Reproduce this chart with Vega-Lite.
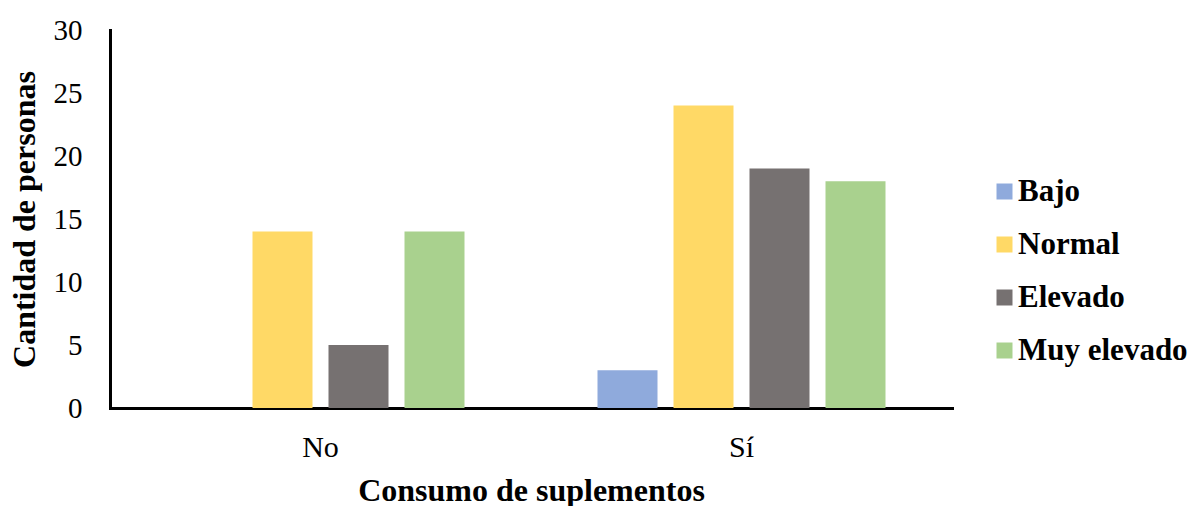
{
  "$schema": "https://vega.github.io/schema/vega-lite/v6.json",
  "autosize": {"type": "none"},
  "padding": {"left": 110, "top": 30, "right": 245, "bottom": 98},
  "width": 842,
  "height": 378,
  "background": "white",
  "data": {
    "values": [
      {"consumo": "No", "nivel": "Bajo", "personas": 0},
      {"consumo": "No", "nivel": "Normal", "personas": 14},
      {"consumo": "No", "nivel": "Elevado", "personas": 5},
      {"consumo": "No", "nivel": "Muy elevado", "personas": 14},
      {"consumo": "Sí", "nivel": "Bajo", "personas": 3},
      {"consumo": "Sí", "nivel": "Normal", "personas": 24},
      {"consumo": "Sí", "nivel": "Elevado", "personas": 19},
      {"consumo": "Sí", "nivel": "Muy elevado", "personas": 18}
    ]
  },
  "mark": {"type": "bar"},
  "encoding": {
    "x": {
      "field": "consumo",
      "type": "nominal",
      "sort": ["No", "Sí"],
      "scale": {"paddingInner": 0, "paddingOuter": 0},
      "axis": {
        "title": "Consumo de suplementos",
        "labelAngle": 0,
        "ticks": false,
        "labelPadding": 24,
        "labelFontSize": 30,
        "labelFont": "Liberation Serif",
        "labelColor": "black",
        "domainColor": "black",
        "domainWidth": 3,
        "titleFont": "Liberation Serif",
        "titleFontSize": 32,
        "titleFontWeight": "bold",
        "titleColor": "black",
        "titleY": 92,
        "titleBaseline": "alphabetic"
      }
    },
    "xOffset": {
      "field": "nivel",
      "type": "nominal",
      "sort": ["Bajo", "Normal", "Elevado", "Muy elevado"],
      "scale": {"paddingInner": 0.2105, "paddingOuter": 0.875}
    },
    "y": {
      "field": "personas",
      "type": "quantitative",
      "scale": {"domain": [0, 30]},
      "axis": {
        "title": "Cantidad de personas",
        "values": [0, 5, 10, 15, 20, 25, 30],
        "grid": false,
        "ticks": false,
        "labelPadding": 28,
        "labelFontSize": 29,
        "labelFont": "Liberation Serif",
        "labelColor": "black",
        "domainColor": "black",
        "domainWidth": 3,
        "titleFont": "Liberation Serif",
        "titleFontSize": 32,
        "titleFontWeight": "bold",
        "titleColor": "black",
        "titleX": -76,
        "titleY": 189,
        "titleAlign": "center",
        "titleBaseline": "alphabetic"
      }
    },
    "color": {
      "field": "nivel",
      "type": "nominal",
      "sort": ["Bajo", "Normal", "Elevado", "Muy elevado"],
      "scale": {
        "domain": ["Bajo", "Normal", "Elevado", "Muy elevado"],
        "range": ["#8faadc", "#ffd966", "#767171", "#a9d18e"]
      },
      "legend": {
        "title": null,
        "orient": "none",
        "legendX": 879,
        "legendY": 146,
        "padding": 0,
        "symbolType": "square",
        "symbolSize": 256,
        "symbolStrokeWidth": 0,
        "labelFont": "Liberation Serif",
        "labelFontSize": 31,
        "labelFontWeight": "bold",
        "labelColor": "black",
        "labelOffset": -2,
        "rowPadding": 21,
        "labelLimit": 300
      }
    }
  },
  "config": {
    "view": {"stroke": null},
    "axis": {"domainCap": "square"}
  }
}
